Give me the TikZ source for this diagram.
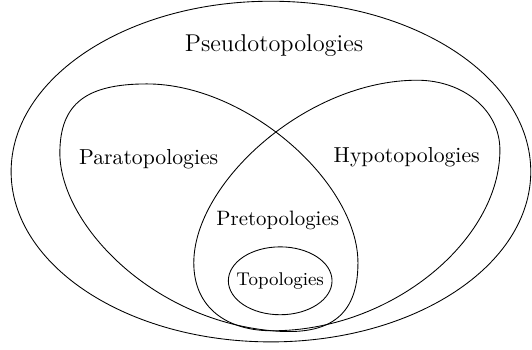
\documentclass[tikz,border=0pt]{standalone}

\tikzset{
set/.style = {draw, thin},
setname/.style = {inner sep=1pt},}

\begin{document}
\begin{tikzpicture}
    \useasboundingbox (0,0) rectangle (8.62,5.67);
    % outer set
    \draw[set] (4.39,2.89) ellipse (4.21 and 2.76);
    % paratopologies
    \draw[set] (4.41,0.31) .. controls (2.43,0.49) and (0.97,2.06) .. (0.97,3.19)
        .. controls (0.97,4.00) and (1.41,4.31) .. (2.38,4.31)
        .. controls (4.00,4.31) and (5.80,2.71) .. (5.80,1.41)
        .. controls (5.80,0.52) and (5.30,0.23) .. cycle;
    % hypotopologies
    \draw[set] (4.41,0.31) .. controls (3.68,0.31) and (3.14,0.68) .. (3.14,1.41)
        .. controls (3.14,2.71) and (4.97,4.37) .. (6.76,4.37)
        .. controls (7.50,4.37) and (8.10,3.89) .. (8.10,3.24)
        .. controls (8.10,1.78) and (6.35,0.31) .. cycle;
    % topologies
    \draw[set] (4.54,1.12) ellipse (0.84 and 0.55);
    % labels
    \node[setname, font=\fontsize{11.2}{13}\selectfont] (pseudo) at (4.44,4.93) {Pseudotopologies};
    \node[setname] (para) at (2.41,3.09) {Paratopologies};
    \node[setname] (hypo) at (6.59,3.13) {Hypotopologies};
    \node[setname, font=\fontsize{9.6}{12}\selectfont] (pre) at (4.50,2.10) {Pretopologies};
    \node[setname, font=\fontsize{8.5}{11}\selectfont] (topo) at (4.54,1.12) {Topologies};
\end{tikzpicture}
\end{document}
